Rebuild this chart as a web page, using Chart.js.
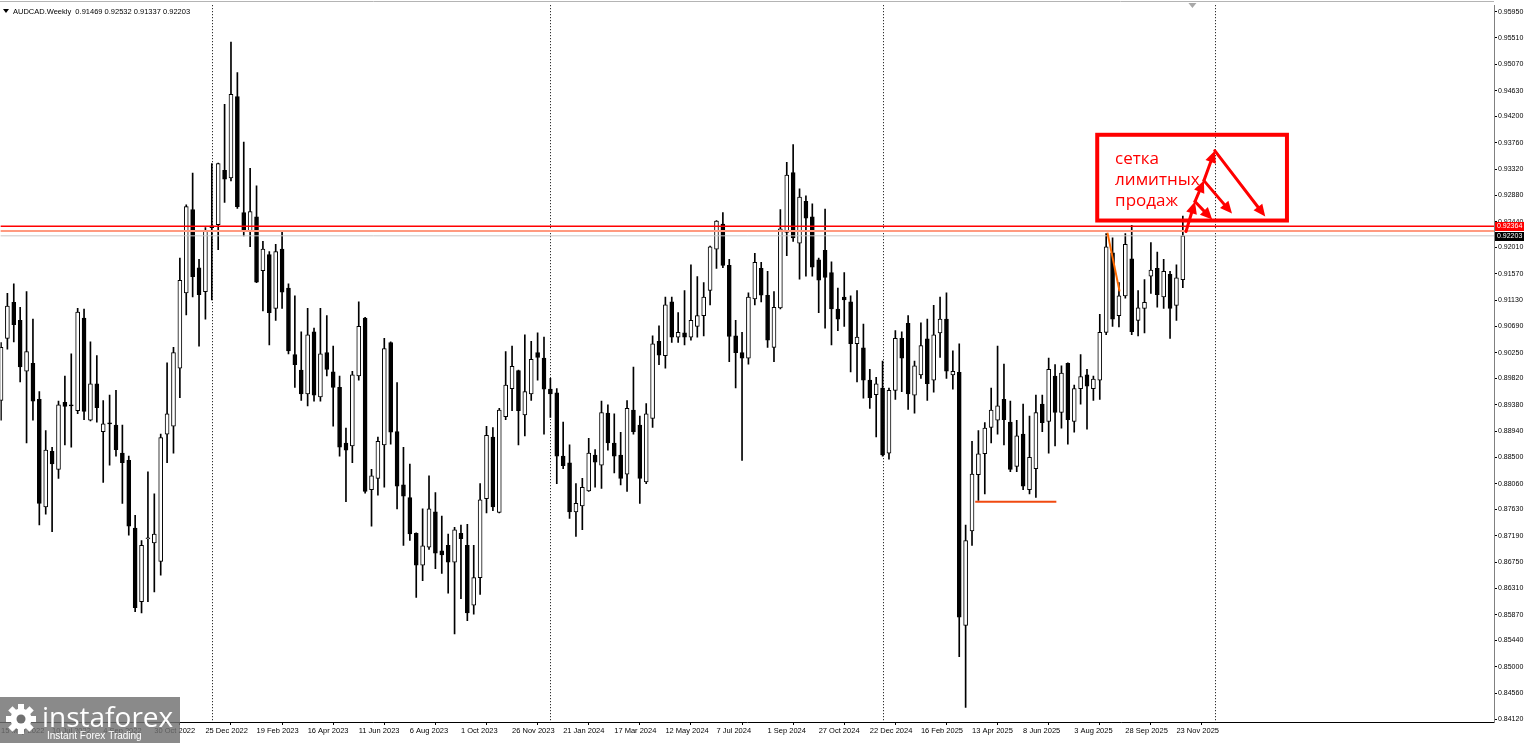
<!DOCTYPE html>
<html>
<head>
<meta charset="utf-8">
<title>AUDCAD Weekly</title>
<script src="https://cdn.jsdelivr.net/npm/chart.js@4.4.1/dist/chart.umd.min.js"></script>
<style>
  body { margin: 0; background: #fff; overflow: hidden; }
  canvas { display: block; background: #fff; }
</style>
</head>
<body>
<canvas id="chart" width="1524" height="743"></canvas>
<script>
const symbol = "AUDCAD.Weekly";

// weekly bars, first bar = 15 May 2022
const opens = [
    0.8945, 0.9049, 0.9109, 0.9079, 0.8994, 0.9007, 0.8947, 0.8767, 0.8860, 0.8830,
    0.8942, 0.8937, 0.8928, 0.9083, 0.8912, 0.8973, 0.8893, 0.8907, 0.8904, 0.8857,
    0.8845, 0.8732, 0.8609, 0.8714, 0.8707, 0.8676, 0.8889, 0.8902, 0.8999, 0.9125,
    0.9264, 0.9167, 0.9127, 0.9234, 0.9239, 0.9330, 0.9317, 0.9453, 0.9259, 0.9228,
    0.9252, 0.9162, 0.9189, 0.9099, 0.9198, 0.9133, 0.9022, 0.8996, 0.8956, 0.9060,
    0.8951, 0.9025, 0.8993, 0.8967, 0.8874, 0.8869, 0.8986, 0.9083, 0.8796, 0.8815,
    0.8871, 0.9042, 0.8893, 0.8804, 0.8783, 0.8723, 0.8670, 0.8700, 0.8759, 0.8694,
    0.8703, 0.8675, 0.8723, 0.8703, 0.8603, 0.8649, 0.8781, 0.8884, 0.8758, 0.8918,
    0.8965, 0.8995, 0.8921, 0.8956, 0.9025, 0.9016, 0.8964, 0.8958, 0.8852, 0.8841,
    0.8759, 0.8769, 0.8794, 0.8854, 0.8837, 0.8924, 0.8874, 0.8854, 0.8822, 0.8929,
    0.8904, 0.8809, 0.8915, 0.9044, 0.9020, 0.9110, 0.9051, 0.9058, 0.9051, 0.9069,
    0.9087, 0.9129, 0.9198, 0.9240, 0.9171, 0.9053, 0.9025, 0.9016, 0.9115, 0.9166,
    0.9121, 0.9034, 0.9100, 0.9226, 0.9326, 0.9208, 0.9278, 0.9252, 0.9180, 0.9196,
    0.9159, 0.9098, 0.9118, 0.9110, 0.9040, 0.9033, 0.8979, 0.8955, 0.8966, 0.8857,
    0.8962, 0.9049, 0.9074, 0.8954, 0.8988, 0.9048, 0.8979, 0.9058, 0.9081, 0.8988,
    0.8992, 0.8569, 0.8727, 0.8821, 0.8856, 0.8900, 0.8912, 0.8947, 0.8909, 0.8835,
    0.8889, 0.8796, 0.8831, 0.8939, 0.8910, 0.8986, 0.8925, 0.9007, 0.8910, 0.8965,
    0.8988, 0.8965, 0.8979, 0.9059, 0.9192, 0.9087, 0.9120, 0.9182, 0.9079, 0.9099,
    0.9153, 0.9166, 0.9118, 0.9156, 0.9104, 0.91469
];
const highs = [
    0.9042, 0.9124, 0.9140, 0.9101, 0.9127, 0.9081, 0.8960, 0.8895, 0.8867, 0.8944,
    0.8986, 0.9023, 0.9099, 0.9098, 0.9043, 0.9020, 0.8945, 0.8954, 0.8962, 0.8904,
    0.8852, 0.8753, 0.8711, 0.8826, 0.8789, 0.8889, 0.9008, 0.9034, 0.9183, 0.9272,
    0.9325, 0.9181, 0.9234, 0.9341, 0.9342, 0.9440, 0.9544, 0.9493, 0.9377, 0.9333,
    0.9304, 0.9211, 0.9194, 0.9206, 0.9226, 0.9140, 0.9120, 0.9060, 0.9099, 0.9066,
    0.9099, 0.9087, 0.9036, 0.8986, 0.8899, 0.8994, 0.9110, 0.9084, 0.8830, 0.8884,
    0.9049, 0.9043, 0.8975, 0.8867, 0.8839, 0.8724, 0.8764, 0.8819, 0.8791, 0.8752,
    0.8722, 0.8733, 0.8737, 0.8738, 0.8703, 0.8806, 0.8902, 0.8900, 0.8932, 0.9027,
    0.9036, 0.8996, 0.9055, 0.9044, 0.9058, 0.9051, 0.8982, 0.8965, 0.8909, 0.8871,
    0.8806, 0.8815, 0.8882, 0.8863, 0.8944, 0.8938, 0.8923, 0.8892, 0.8945, 0.9001,
    0.8919, 0.8940, 0.9053, 0.9070, 0.9118, 0.9118, 0.9092, 0.9129, 0.9172, 0.9152,
    0.9142, 0.9203, 0.9246, 0.9259, 0.9181, 0.9079, 0.9059, 0.9125, 0.9191, 0.9176,
    0.9161, 0.9127, 0.9264, 0.9343, 0.9373, 0.9299, 0.9287, 0.9274, 0.9183, 0.9265,
    0.9177, 0.9133, 0.9159, 0.9120, 0.9129, 0.9073, 0.8997, 0.8984, 0.9011, 0.8966,
    0.9062, 0.9060, 0.9087, 0.9011, 0.9075, 0.9081, 0.9104, 0.9118, 0.9125, 0.9028,
    0.9040, 0.8737, 0.8877, 0.8895, 0.8908, 0.8966, 0.9036, 0.9006, 0.8944, 0.8912,
    0.8939, 0.8919, 0.8954, 0.8954, 0.9016, 0.9005, 0.9003, 0.9008, 0.8971, 0.9022,
    0.8997, 0.8986, 0.9089, 0.9224, 0.9217, 0.9142, 0.9224, 0.9238, 0.9129, 0.9147,
    0.9209, 0.9193, 0.9181, 0.9161, 0.9172, 0.92532
];
const lows = [
    0.8912, 0.9031, 0.9043, 0.8976, 0.8874, 0.8912, 0.8737, 0.8755, 0.8726, 0.8815,
    0.8871, 0.8867, 0.8923, 0.8913, 0.8911, 0.8909, 0.8808, 0.8837, 0.8852, 0.8773,
    0.8720, 0.8592, 0.8590, 0.8609, 0.8625, 0.8653, 0.8841, 0.8857, 0.8950, 0.9088,
    0.9118, 0.9036, 0.9081, 0.9113, 0.9197, 0.9276, 0.9312, 0.9266, 0.9220, 0.9202,
    0.9142, 0.9095, 0.9038, 0.9079, 0.9099, 0.9023, 0.8967, 0.8945, 0.8936, 0.8944,
    0.8944, 0.8986, 0.8902, 0.8852, 0.8776, 0.8841, 0.8979, 0.8790, 0.8735, 0.8787,
    0.8800, 0.8872, 0.8764, 0.8703, 0.8711, 0.8616, 0.8644, 0.8696, 0.8664, 0.8656,
    0.8623, 0.8555, 0.8614, 0.8577, 0.8588, 0.8621, 0.8757, 0.8761, 0.8757, 0.8913,
    0.8928, 0.8871, 0.8886, 0.8945, 0.8979, 0.8889, 0.8917, 0.8806, 0.8831, 0.8748,
    0.8718, 0.8729, 0.8793, 0.8800, 0.8798, 0.8862, 0.8824, 0.8804, 0.8793, 0.8889,
    0.8773, 0.8806, 0.8900, 0.9005, 0.8999, 0.9042, 0.9042, 0.9038, 0.9046, 0.9051,
    0.9053, 0.9105, 0.9166, 0.9167, 0.9010, 0.8966, 0.8845, 0.9006, 0.9105, 0.9110,
    0.9034, 0.9010, 0.9098, 0.9187, 0.9211, 0.9148, 0.9153, 0.9153, 0.9092, 0.9066,
    0.9038, 0.9062, 0.9069, 0.8993, 0.8976, 0.8949, 0.8932, 0.8884, 0.8852, 0.8847,
    0.8947, 0.8960, 0.8930, 0.8924, 0.8982, 0.8945, 0.8959, 0.9017, 0.8982, 0.8964,
    0.8517, 0.8432, 0.8703, 0.8778, 0.8789, 0.8874, 0.8889, 0.8871, 0.8826, 0.8826,
    0.8796, 0.8789, 0.8783, 0.8893, 0.8857, 0.8869, 0.8899, 0.8872, 0.8892, 0.8939,
    0.8897, 0.8945, 0.8947, 0.9055, 0.9069, 0.9068, 0.9116, 0.9055, 0.9053, 0.9058,
    0.9124, 0.9101, 0.9099, 0.9049, 0.9079, 0.91337
];
const closes = [
    0.9034, 0.9103, 0.9072, 0.9001, 0.9027, 0.8944, 0.8773, 0.8862, 0.8839, 0.8938,
    0.8935, 0.8936, 0.9093, 0.8927, 0.8973, 0.8933, 0.8906, 0.8906, 0.8863, 0.8841,
    0.8735, 0.8599, 0.8703, 0.8715, 0.8722, 0.8883, 0.8923, 0.9025, 0.9146, 0.9269,
    0.9152, 0.9122, 0.9228, 0.9237, 0.9341, 0.9315, 0.9457, 0.9269, 0.9228, 0.9261,
    0.9143, 0.9198, 0.9092, 0.9194, 0.9126, 0.9028, 0.9005, 0.8956, 0.9055, 0.8954,
    0.9023, 0.8997, 0.8967, 0.8867, 0.8862, 0.8988, 0.9069, 0.8793, 0.8819, 0.8877,
    0.9032, 0.8892, 0.8802, 0.8785, 0.8722, 0.8670, 0.8702, 0.8764, 0.8690, 0.8687,
    0.8675, 0.8729, 0.8714, 0.8590, 0.8649, 0.8779, 0.8887, 0.8767, 0.8929, 0.8971,
    0.9002, 0.8928, 0.8960, 0.9014, 0.9017, 0.8964, 0.8956, 0.8852, 0.8836, 0.8759,
    0.8773, 0.8800, 0.8857, 0.8842, 0.8925, 0.8874, 0.8852, 0.8815, 0.8932, 0.8893,
    0.8815, 0.8923, 0.9040, 0.9021, 0.9105, 0.9051, 0.9059, 0.9051, 0.9079, 0.9087,
    0.9118, 0.9202, 0.9245, 0.9171, 0.9052, 0.9025, 0.9016, 0.9118, 0.9176, 0.9121,
    0.9046, 0.9101, 0.9232, 0.9322, 0.9217, 0.9285, 0.9250, 0.9168, 0.9146, 0.9151,
    0.9098, 0.9081, 0.9113, 0.9040, 0.9051, 0.8979, 0.8950, 0.8973, 0.8854, 0.8962,
    0.9049, 0.9016, 0.8956, 0.9003, 0.9037, 0.8973, 0.9055, 0.9081, 0.8994, 0.8994,
    0.8583, 0.8711, 0.8822, 0.8856, 0.8899, 0.8929, 0.8936, 0.8913, 0.8830, 0.8886,
    0.8802, 0.8850, 0.8925, 0.8908, 0.8997, 0.8925, 0.8991, 0.8913, 0.8965, 0.8985,
    0.8969, 0.8981, 0.9059, 0.9202, 0.9081, 0.9120, 0.9206, 0.9060, 0.9100, 0.9109,
    0.9163, 0.9122, 0.9161, 0.9099, 0.9150, 0.92203
];

// one date label every 8 bars
const dateTicks = [
    "15 May 2022", "10 Jul 2022", "4 Sep 2022", "30 Oct 2022", "25 Dec 2022",
    "19 Feb 2023", "16 Apr 2023", "11 Jun 2023", "6 Aug 2023", "1 Oct 2023",
    "26 Nov 2023", "21 Jan 2024", "17 Mar 2024", "12 May 2024", "7 Jul 2024",
    "1 Sep 2024", "27 Oct 2024", "22 Dec 2024", "16 Feb 2025", "13 Apr 2025",
    "8 Jun 2025", "3 Aug 2025", "28 Sep 2025", "23 Nov 2025"
];
const labelEvery = 8;

const priceTicks = [
    0.95950, 0.95510, 0.95070, 0.94630, 0.94200, 0.93760, 0.93320, 0.92880,
    0.92440, 0.92010, 0.91570, 0.91130, 0.90690, 0.90250, 0.89820, 0.89380,
    0.88940, 0.88500, 0.88060, 0.87630, 0.87190, 0.86750, 0.86310, 0.85870,
    0.85440, 0.85000, 0.84560, 0.84120
];

// year separators (bar index of first week of each year)
const separatorBars = [33, 86, 138, 190];

const resistanceLevel = 0.92364;
const zoneLevel = 0.92285;
const bidLevel = 0.92203;
const supportLine = { from: 152.5, to: 165.2, price: 0.8776 };
const trendLine = [[173.2, 0.92256], [175.1, 0.91275]];
const noteBox = { from: 171.6, to: 201.3, top: 0.93892, bottom: 0.92459 };
const noteLines = ["сетка", "лимитных", "продаж"];
const notePrices = [0.93409, 0.93059, 0.92709];
const noteBar = 174.4;
const sellArrows = [
    [[185.5, 0.92276], [186.9, 0.92776]],
    [[186.9, 0.92776], [189.6, 0.92476]],
    [[186.9, 0.92776], [188.3, 0.93126]],
    [[188.3, 0.93126], [192.7, 0.92576]],
    [[188.3, 0.93126], [190.0, 0.93626]],
    [[190.0, 0.93626], [197.9, 0.92526]]
];
const shiftBar = 186.5;


const lastBar = closes.length - 1;
const bars = closes.map((_, i) => i);
const bodyData = bars.map(i => ({ x: i, y: [opens[i], closes[i]] }));
const wickData = bars.map(i => ({ x: i, y: [lows[i], highs[i]] }));
const bodyColors = bars.map(i => closes[i] >= opens[i] ? "#ffffff" : "#000000");

const axisFont = { family: "Liberation Sans", size: 7.5 };
const priceFont = { family: "Liberation Sans", size: 7 };


function drawArrow(ctx, x1, y1, x2, y2) {
    const angle = Math.atan2(y2 - y1, x2 - x1);
    const len = 12;
    const half = 5.5;
    const bx = x2 - len * Math.cos(angle);
    const by = y2 - len * Math.sin(angle);
    ctx.beginPath();
    ctx.moveTo(x1, y1);
    ctx.lineTo(bx, by);
    ctx.stroke();
    ctx.beginPath();
    ctx.moveTo(x2, y2);
    ctx.lineTo(bx + half * Math.sin(angle), by - half * Math.cos(angle));
    ctx.lineTo(bx - half * Math.sin(angle), by + half * Math.cos(angle));
    ctx.closePath();
    ctx.fill();
}


function hLine(ctx, area, y, color, width) {
    ctx.strokeStyle = color;
    ctx.lineWidth = width;
    ctx.beginPath();
    ctx.moveTo(area.left, y);
    ctx.lineTo(area.right, y);
    ctx.stroke();
}


function priceLabel(ctx, y, text, fill) {
    ctx.fillStyle = fill;
    ctx.fillRect(1495, Math.round(y) - 4, 29, 9);
    ctx.fillStyle = "#ffffff";
    ctx.font = "7px 'Liberation Sans'";
    ctx.textAlign = "left";
    ctx.textBaseline = "middle";
    ctx.fillText(text, 1497, Math.round(y) + 0.5);
}


function drawLogo(ctx) {
    ctx.save();
    ctx.fillStyle = "rgba(112,112,112,0.82)";
    ctx.fillRect(0, 697, 180, 46);

    ctx.translate(21, 719);
    ctx.fillStyle = "#ffffff";
    for (let i = 0; i < 8; i++) {
        ctx.rotate(Math.PI / 4);
        ctx.fillRect(-3, -15, 6, 7);
    }
    ctx.beginPath();
    ctx.arc(0, 0, 10.5, 0, Math.PI * 2);
    ctx.fill();
    ctx.fillStyle = "#707070";
    ctx.beginPath();
    ctx.arc(0, 0, 4.5, 0, Math.PI * 2);
    ctx.fill();
    ctx.restore();

    ctx.save();
    ctx.fillStyle = "#ffffff";
    ctx.textAlign = "left";
    ctx.textBaseline = "alphabetic";
    ctx.font = "28px 'Open Sans'";
    ctx.fillText("instaforex", 42, 727);
    ctx.font = "10px 'Liberation Sans'";
    ctx.fillText("Instant Forex Trading", 47, 739);
    ctx.restore();
}


const overlays = {
    id: "overlays",
    beforeDatasetsDraw(chart) {
        const { ctx, chartArea: area, scales: { x } } = chart;
        ctx.save();
        ctx.strokeStyle = "#000000";
        ctx.lineWidth = 1;
        ctx.setLineDash([1, 2]);
        separatorBars.forEach(b => {
            const px = Math.round(x.getPixelForValue(b)) + 0.5;
            ctx.beginPath();
            ctx.moveTo(px, area.top);
            ctx.lineTo(px, area.bottom);
            ctx.stroke();
        });
        ctx.restore();
    },
    afterDatasetsDraw(chart) {
        const { ctx, chartArea: area, scales: { x, y } } = chart;
        ctx.save();
        ctx.beginPath();
        ctx.rect(area.left, area.top, area.right - area.left, area.bottom - area.top);
        ctx.clip();

        hLine(ctx, area, y.getPixelForValue(bidLevel), "#c8c8c8", 1);
        hLine(ctx, area, y.getPixelForValue(zoneLevel), "#ff9a80", 2);
        hLine(ctx, area, y.getPixelForValue(resistanceLevel), "#ff0000", 1.5);

        ctx.strokeStyle = "#f04a10";
        ctx.lineWidth = 2;
        ctx.beginPath();
        ctx.moveTo(x.getPixelForValue(supportLine.from), y.getPixelForValue(supportLine.price));
        ctx.lineTo(x.getPixelForValue(supportLine.to), y.getPixelForValue(supportLine.price));
        ctx.stroke();

        ctx.strokeStyle = "#ff6a00";
        ctx.beginPath();
        ctx.moveTo(x.getPixelForValue(trendLine[0][0]), y.getPixelForValue(trendLine[0][1]));
        ctx.lineTo(x.getPixelForValue(trendLine[1][0]), y.getPixelForValue(trendLine[1][1]));
        ctx.stroke();

        const bx1 = x.getPixelForValue(noteBox.from);
        const bx2 = x.getPixelForValue(noteBox.to);
        const by1 = y.getPixelForValue(noteBox.top);
        const by2 = y.getPixelForValue(noteBox.bottom);
        ctx.strokeStyle = "#ff0000";
        ctx.lineWidth = 4;
        ctx.strokeRect(bx1, by1, bx2 - bx1, by2 - by1);

        ctx.fillStyle = "#ff0000";
        ctx.font = "17px 'Open Sans'";
        ctx.textAlign = "left";
        ctx.textBaseline = "alphabetic";
        noteLines.forEach((t, i) => {
            ctx.fillText(t, x.getPixelForValue(noteBar), y.getPixelForValue(notePrices[i]));
        });

        ctx.lineWidth = 3;
        ctx.lineCap = "round";
        sellArrows.forEach(([a, b]) => {
            drawArrow(ctx, x.getPixelForValue(a[0]), y.getPixelForValue(a[1]),
                x.getPixelForValue(b[0]), y.getPixelForValue(b[1]));
        });
        ctx.restore();
    },
    afterDraw(chart) {
        const { ctx, chartArea: area, scales: { x, y } } = chart;
        ctx.save();

        ctx.strokeStyle = "#b4b4b4";
        ctx.lineWidth = 1;
        ctx.beginPath();
        ctx.moveTo(0, 1.5);
        ctx.lineTo(area.right, 1.5);
        ctx.stroke();

        const sx = x.getPixelForValue(shiftBar);
        ctx.fillStyle = "#a8a8a8";
        ctx.beginPath();
        ctx.moveTo(sx - 4, 3);
        ctx.lineTo(sx + 4, 3);
        ctx.lineTo(sx, 8);
        ctx.closePath();
        ctx.fill();

        ctx.fillStyle = "#000000";
        ctx.beginPath();
        ctx.moveTo(3, 9);
        ctx.lineTo(9, 9);
        ctx.lineTo(6, 13);
        ctx.closePath();
        ctx.fill();
        ctx.font = "7.5px 'Liberation Sans'";
        ctx.textAlign = "left";
        ctx.textBaseline = "middle";
        const ohlc = [opens[lastBar], highs[lastBar], lows[lastBar], closes[lastBar]]
            .map(v => v.toFixed(5)).join(" ");
        ctx.fillText(symbol + "  " + ohlc, 13, 11.5);

        priceLabel(ctx, y.getPixelForValue(resistanceLevel), resistanceLevel.toFixed(5), "#ff0000");
        priceLabel(ctx, y.getPixelForValue(bidLevel), bidLevel.toFixed(5), "#000000");
        ctx.restore();

        drawLogo(ctx);
    }
};


const context = document.getElementById("chart");

new Chart(context, {
    type: "bar",
    data: {
        datasets: [
            {
                label: "body",
                data: bodyData,
                backgroundColor: bodyColors,
                borderColor: "#000000",
                borderWidth: 1,
                borderSkipped: false,
                barThickness: 4,
                minBarLength: 1,
                grouped: false,
                order: 0
            },
            {
                label: "wick",
                data: wickData,
                backgroundColor: "#000000",
                borderWidth: 0,
                barThickness: 1,
                grouped: false,
                order: 1
            }
        ]
    },
    options: {
        responsive: false,
        animation: false,
        devicePixelRatio: 1,
        layout: { padding: { top: 3, left: 0, right: 0, bottom: 0 } },
        plugins: {
            legend: { display: false },
            tooltip: { enabled: false }
        },
        scales: {
            x: {
                type: "linear",
                min: -0.094,
                max: 233.71,
                offset: false,
                afterBuildTicks: scale => {
                    scale.ticks = dateTicks.map((_, i) => ({ value: i * labelEvery }));
                },
                afterFit: scale => { scale.height = 21; },
                ticks: {
                    callback: value => dateTicks[Math.round(value / labelEvery)],
                    align: "start",
                    maxRotation: 0,
                    autoSkip: false,
                    padding: 1,
                    color: "#000000",
                    font: axisFont
                },
                grid: { drawOnChartArea: false, tickLength: 3, color: "#000000" },
                border: { color: "#000000", width: 1 }
            },
            y: {
                position: "right",
                min: 0.84077,
                max: 0.96058,
                afterBuildTicks: scale => {
                    scale.ticks = priceTicks.map(v => ({ value: v }));
                },
                afterFit: scale => { scale.width = 30; },
                ticks: {
                    callback: value => value.toFixed(5),
                    autoSkip: false,
                    padding: 1,
                    color: "#000000",
                    font: priceFont
                },
                grid: { drawOnChartArea: false, tickLength: 3, color: "#000000" },
                border: { color: "#808080", width: 1 }
            }
        }
    },
    plugins: [overlays]
});
</script>
</body>
</html>
